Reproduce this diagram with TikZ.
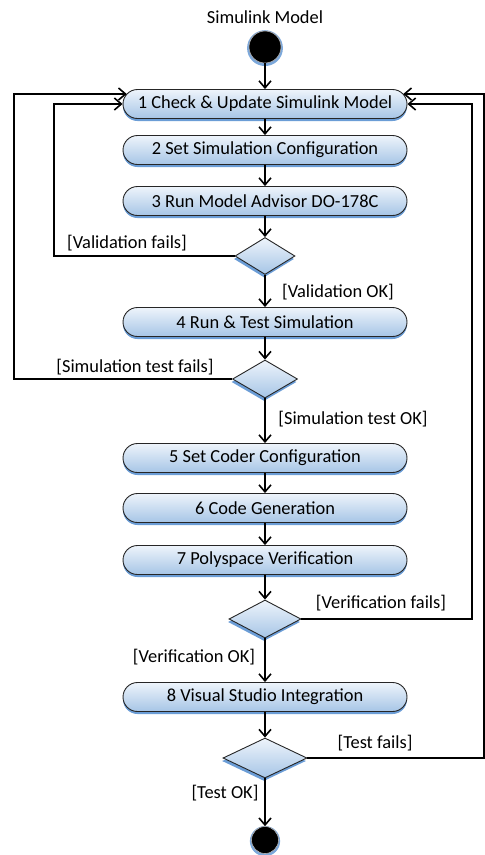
\documentclass[tikz,border=0pt]{standalone}
\usepackage{fontspec}
\setmainfont{Carlito}
\usetikzlibrary{shapes.misc,shapes.geometric,arrows.meta,shadows,calc}
\definecolor{boxtop}{HTML}{EEF4FB}
\definecolor{boxbot}{HTML}{A6C5E6}
\definecolor{shblue}{HTML}{5B92D2}
\begin{document}
\begin{tikzpicture}[x=1pt,y=-1pt,
  font=\fontsize{18.4}{22}\selectfont,
  act/.style={rounded rectangle, draw=black!85, line width=0.9pt, top color=boxtop, bottom color=boxbot,
    minimum width=284pt, minimum height=29pt, inner sep=0pt,
    drop shadow={shadow xshift=0pt, shadow yshift=-2.5pt, fill=shblue, opacity=0.9}},
  dec/.style={diamond, draw=black!85, line width=0.9pt, top color=boxtop, bottom color=boxbot,
    inner sep=0pt,
    drop shadow={shadow xshift=-1pt, shadow yshift=-3pt, fill=shblue, opacity=0.9}},
  endpt/.style={circle, fill=black, draw=black!30, line width=0.6pt, inner sep=0pt,
    drop shadow={shadow xshift=0pt, shadow yshift=-1pt, shadow scale=1.12, fill=shblue, opacity=0.8}},
  ln/.style={line width=1.6pt},
  arr/.style={line width=1.6pt, -{Straight Barb[length=7pt,width=12pt,line width=1.6pt]}},
  lbl/.style={inner sep=0pt}
]
\useasboundingbox (0,0) rectangle (485,855);

\node[lbl] (title) at (265,17) {Simulink Model};
\node[endpt, minimum size=32pt] (s) at (265,47) {};

\node[act] (b1) at (265,104) {1 Check \& Update Simulink Model};
\node[act] (b2) at (265,150) {2 Set Simulation Configuration};
\node[act] (b3) at (265,201) {3 Run Model Advisor DO-178C};
\node[dec, minimum width=60pt, minimum height=37pt] (d1) at (265,256) {};
\node[act] (b4) at (265,322) {4 Run \& Test Simulation};
\node[dec, minimum width=65pt, minimum height=38pt] (d2) at (265,379) {};
\node[act] (b5) at (265,458) {5 Set Coder Configuration};
\node[act] (b6) at (265,508) {6 Code Generation};
\node[act] (b7) at (265,560) {7 Polyspace Verification};
\node[dec, minimum width=72pt, minimum height=38pt] (d3) at (265,619) {};
\node[act] (b8) at (265,697) {8 Visual Studio Integration};
\node[dec, minimum width=84pt, minimum height=40pt] (d4) at (265,758) {};
\node[endpt, minimum size=27pt] (e) at (265,840) {};

\draw[arr] (s) -- (b1);
\draw[arr] (b1) -- (b2);
\draw[arr] (b2) -- (b3);
\draw[arr] (b3) -- (d1);
\draw[arr] (d1) -- (b4);
\draw[arr] (b4) -- (d2);
\draw[arr] (d2) -- (b5);
\draw[arr] (b5) -- (b6);
\draw[arr] (b6) -- (b7);
\draw[arr] (b7) -- (d3);
\draw[arr] (d3) -- (b8);
\draw[arr] (b8) -- (d4);
\draw[arr] (d4) -- (e);

\coordinate (xl1) at (54,0);
\coordinate (xl2) at (14,0);
\coordinate (xr1) at (472,0);
\coordinate (xr2) at (484,0);
\coordinate (b1lo) at ($(b1.west)+(4.2,-10)$);
\coordinate (b1ro) at ($(b1.east)+(-4.2,-10)$);

\draw[arr] (d1.west) -| (xl1 |- b1.west) -- (b1.west);
\draw[arr] (d2.west) -| (xl2 |- b1lo) -- (b1lo);
\draw[arr] (d3.east) -| (xr1 |- b1.east) -- (b1.east);
\draw[arr] (d4.east) -| (xr2 |- b1ro) -- (b1ro);

\node[lbl] (l1) at (127,243) {[Validation fails]};
\node[lbl] (l2) at (338,292) {[Validation OK]};
\node[lbl] (l3) at (135,367) {[Simulation test fails]};
\node[lbl] (l4) at (353,419) {[Simulation test OK]};
\node[lbl] (l5) at (381,603) {[Verification fails]};
\node[lbl] (l6) at (194,657) {[Verification OK]};
\node[lbl] (l7) at (375,743) {[Test fails]};
\node[lbl] (l8) at (225,793) {[Test OK]};
\end{tikzpicture}
\end{document}
